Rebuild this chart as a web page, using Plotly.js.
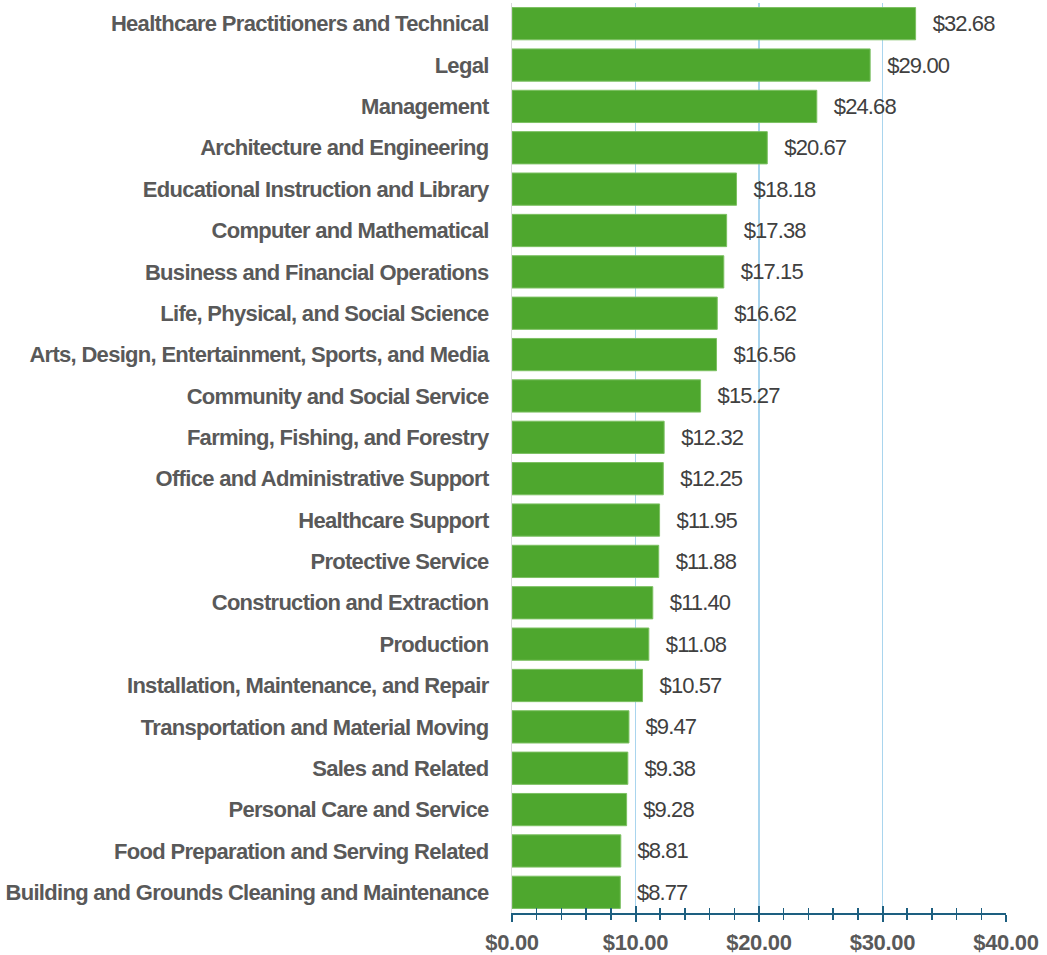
<!DOCTYPE html>
<html>
<head>
<meta charset="utf-8">
<script src="https://cdn.plot.ly/plotly-3.0.1.min.js"></script>
<style>
html,body{margin:0;padding:0;background:#fff;}
#chart{width:1047px;height:955px;}
#chart .ytick text{letter-spacing:-0.7px;}
#chart .xtick text{letter-spacing:-0.3px;}
#chart .point text{letter-spacing:-0.9px;}
</style>
</head>
<body>
<div id="chart"></div>
<script>
const categories = [
  "Healthcare Practitioners and Technical",
  "Legal",
  "Management",
  "Architecture and Engineering",
  "Educational Instruction and Library",
  "Computer and Mathematical",
  "Business and Financial Operations",
  "Life, Physical, and Social Science",
  "Arts, Design, Entertainment, Sports, and Media",
  "Community and Social Service",
  "Farming, Fishing, and Forestry",
  "Office and Administrative Support",
  "Healthcare Support",
  "Protective Service",
  "Construction and Extraction",
  "Production",
  "Installation, Maintenance, and Repair",
  "Transportation and Material Moving",
  "Sales and Related",
  "Personal Care and Service",
  "Food Preparation and Serving Related",
  "Building and Grounds Cleaning and Maintenance"
];
const wages = [32.68, 29.00, 24.68, 20.67, 18.18, 17.38, 17.15, 16.62, 16.56, 15.27, 12.32, 12.25, 11.95, 11.88, 11.40, 11.08, 10.57, 9.47, 9.38, 9.28, 8.81, 8.77];
const xTickValues = [0, 10, 20, 30, 40];
const xTickLabels = ["$0.00", "$10.00", "$20.00", "$30.00", "$40.00"];

const labels = wages.map(v => "\u00a0\u00a0$" + v.toFixed(2));

const data = [
  {
    type: "bar",
    orientation: "h",
    x: wages,
    y: categories,
    text: labels,
    textposition: "outside",
    cliponaxis: false,
    textfont: {family: "Liberation Sans, Arial, sans-serif", size: 22, color: "#404040"},
    marker: {color: "#4ea72e", line: {color: "#7cc062", width: 1}},
    hoverinfo: "none"
  },
  {
    type: "scatter",
    x: [0, 40],
    y: [null, null],
    xaxis: "x2",
    yaxis: "y",
    mode: "markers",
    showlegend: false,
    hoverinfo: "none"
  }
];

const layout = {
  width: 1047,
  height: 955,
  margin: {l: 512, r: 41, t: 3, b: 42},
  paper_bgcolor: "#ffffff",
  plot_bgcolor: "#ffffff",
  showlegend: false,
  bargap: 0.22,
  xaxis: {
    range: [0, 40],
    tickvals: xTickValues,
    ticktext: xTickLabels,
    showgrid: true,
    gridcolor: "#a9d5ee",
    gridwidth: 1.5,
    zeroline: false,
    showline: true,
    linecolor: "#1d5f80",
    linewidth: 2,
    ticks: "outside",
    ticklen: 7,
    tickwidth: 2,
    tickcolor: "#1d5f80",
    ticklabelstandoff: 2,
    minor: {dtick: 2, ticks: "outside", ticklen: 5, tickwidth: 1.5, tickcolor: "#1d5f80", showgrid: false},
    tickfont: {family: "Liberation Sans, Arial, sans-serif", size: 22, color: "#595959", weight: "bold"},
    fixedrange: true
  },
  xaxis2: {
    overlaying: "x",
    side: "bottom",
    anchor: "y",
    range: [0, 40],
    tickvals: xTickValues,
    showticklabels: false,
    showgrid: false,
    zeroline: false,
    showline: false,
    ticks: "inside",
    ticklen: 7,
    tickwidth: 2,
    tickcolor: "#1d5f80",
    minor: {dtick: 2, ticks: "inside", ticklen: 5, tickwidth: 1.5, tickcolor: "#1d5f80", showgrid: false}
  },
  yaxis: {
    autorange: "reversed",
    type: "category",
    showgrid: false,
    showline: true,
    linecolor: "#d9d9d9",
    linewidth: 1,
    ticks: "",
    ticklabelstandoff: 18,
    tickfont: {family: "Liberation Sans, Arial, sans-serif", size: 22, color: "#595959", weight: "bold"},
    fixedrange: true
  }
};

Plotly.newPlot("chart", data, layout, {displayModeBar: false, staticPlot: true});
</script>
</body>
</html>
